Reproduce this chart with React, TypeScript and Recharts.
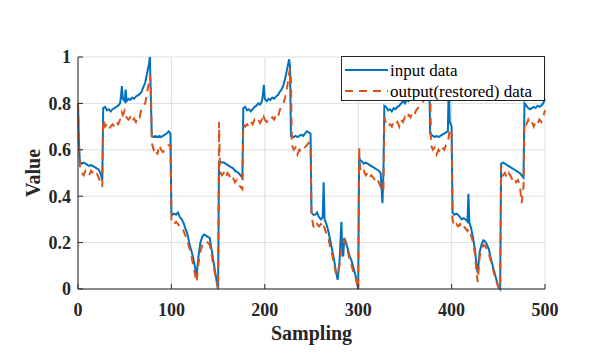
import React from "react";
import { LineChart, Line, XAxis, YAxis, CartesianGrid, Legend, Label } from "recharts";

const FONT = "'Liberation Serif', 'Times New Roman', serif";
const BLUE = "#0072BD";
const ORANGE = "#D95319";
const AXIS = "#262626";

const sampling = [
  0, 1, 2, 4, 6, 8, 10, 12, 14, 16, 18, 20, 22, 24, 26, 27, 29, 31, 33, 35, 37, 39, 41, 43, 45, 46, 47, 48, 50, 51, 52, 54, 56, 58, 60, 62, 64, 66, 68, 70, 72, 74, 76, 77, 78, 79, 81, 83, 85, 87, 89, 91, 93, 95, 97, 99, 100, 101, 103, 105, 107, 109, 111, 113, 115, 117, 119, 121, 123, 125, 127, 129, 131, 133, 135, 137, 139, 141, 143, 145, 147, 149, 150,
  151, 152, 154, 156, 158, 160, 162, 164, 166, 168, 170, 172, 174, 176, 177, 179, 181, 183, 185, 187, 189, 191, 193, 195, 197, 198, 199, 200, 202, 204, 206, 208, 210, 212, 214, 216, 218, 220, 222, 224, 226, 227, 228, 229, 231, 233, 235, 237, 239, 241, 243, 245, 247, 249, 250, 252, 254, 256, 258, 260, 262, 263, 264, 266, 268, 270, 272, 274, 276, 278, 280, 282, 283, 284, 285, 287, 289, 291, 293, 295, 297, 299, 300,
  301, 302, 304, 306, 308, 310, 312, 314, 316, 318, 320, 322, 324, 326, 327, 328, 330, 332, 334, 336, 338, 340, 342, 344, 346, 348, 350, 352, 354, 356, 358, 360, 362, 364, 366, 368, 370, 372, 374, 375, 376, 377, 378, 380, 382, 384, 386, 388, 390, 392, 394, 396, 397, 398, 400, 401, 403, 405, 407, 409, 411, 413, 415, 417, 418, 419, 421, 423, 425, 427, 428, 430, 432, 434, 436, 438, 440, 442, 444, 446, 448, 450, 452,
  453, 455, 457, 459, 461, 463, 465, 467, 469, 471, 473, 475, 477, 478, 480, 482, 484, 486, 488, 490, 492, 494, 496, 498, 500,
];

const inputValues = [
  0.8, 0.62, 0.55, 0.54, 0.545, 0.54, 0.535, 0.53, 0.535, 0.53, 0.525, 0.52, 0.515, 0.5, 0.47, 0.78, 0.785, 0.77, 0.775, 0.765, 0.775, 0.78, 0.785, 0.79, 0.8, 0.83, 0.875, 0.82, 0.81, 0.86, 0.81, 0.82, 0.815, 0.825, 0.82, 0.83, 0.835, 0.84, 0.85, 0.87, 0.89, 0.93, 0.97, 1.0, 0.82, 0.66, 0.655, 0.66, 0.655, 0.66, 0.655, 0.66, 0.665, 0.67, 0.68, 0.67, 0.33, 0.32, 0.325, 0.32, 0.33, 0.31, 0.3, 0.285, 0.26, 0.24, 0.2, 0.17, 0.14, 0.1, 0.06, 0.14, 0.2, 0.225, 0.235, 0.23, 0.225, 0.22, 0.17, 0.12, 0.07, 0.02, 0,
  0.55, 0.55, 0.545, 0.545, 0.54, 0.535, 0.53, 0.525, 0.52, 0.51, 0.505, 0.5, 0.49, 0.48, 0.78, 0.785, 0.77, 0.775, 0.765, 0.775, 0.785, 0.79, 0.8, 0.795, 0.81, 0.84, 0.88, 0.82, 0.81, 0.82, 0.815, 0.825, 0.82, 0.83, 0.835, 0.85, 0.86, 0.88, 0.91, 0.95, 0.99, 0.96, 0.66, 0.66, 0.655, 0.66, 0.655, 0.66, 0.665, 0.66, 0.67, 0.68, 0.675, 0.67, 0.33, 0.32, 0.32, 0.33, 0.31, 0.3, 0.31, 0.46, 0.3, 0.28, 0.25, 0.21, 0.17, 0.13, 0.08, 0.04, 0.12, 0.29, 0.16, 0.14, 0.22, 0.2, 0.17, 0.14, 0.12, 0.09, 0.06, 0.02, 0,
  0.57, 0.555, 0.55, 0.54, 0.545, 0.54, 0.535, 0.53, 0.525, 0.52, 0.515, 0.51, 0.5, 0.37, 0.5, 0.79, 0.785, 0.77, 0.775, 0.765, 0.78, 0.775, 0.785, 0.79, 0.8, 0.81, 0.8, 0.815, 0.81, 0.82, 0.815, 0.825, 0.82, 0.83, 0.835, 0.84, 0.85, 0.88, 0.93, 0.98, 0.95, 0.67, 0.665, 0.66, 0.655, 0.66, 0.655, 0.66, 0.665, 0.67, 0.675, 0.68, 0.9, 0.72, 0.7, 0.33, 0.32, 0.325, 0.32, 0.31, 0.3, 0.305, 0.3, 0.29, 0.41, 0.29, 0.26, 0.22, 0.17, 0.09, 0.07, 0.16, 0.19, 0.21, 0.205, 0.19, 0.17, 0.13, 0.1, 0.07, 0.04, 0.01, 0,
  0.54, 0.545, 0.54, 0.535, 0.53, 0.525, 0.52, 0.515, 0.51, 0.505, 0.5, 0.49, 0.48, 0.8, 0.79, 0.78, 0.775, 0.78, 0.785, 0.78, 0.79, 0.785, 0.79, 0.8, 0.82,
];

const outputValues = [
  0.8, 0.64, 0.53, 0.5, 0.49, 0.51, 0.5, 0.49, 0.51, 0.5, 0.49, 0.5, 0.48, 0.46, 0.44, 0.73, 0.7, 0.71, 0.69, 0.7, 0.71, 0.7, 0.72, 0.71, 0.73, 0.74, 0.76, 0.75, 0.77, 0.76, 0.74, 0.73, 0.74, 0.72, 0.735, 0.72, 0.745, 0.74, 0.78, 0.79, 0.8, 0.85, 0.89, 0.92, 0.88, 0.63, 0.6, 0.61, 0.58, 0.62, 0.6, 0.59, 0.6, 0.61, 0.62, 0.62, 0.3, 0.28, 0.28, 0.29, 0.28, 0.27, 0.27, 0.25, 0.23, 0.21, 0.18, 0.15, 0.11, 0.07, 0.03, 0.11, 0.16, 0.19, 0.2, 0.205, 0.2, 0.19, 0.15, 0.1, 0.06, 0.02, 0,
  0.72, 0.51, 0.49, 0.5, 0.48, 0.5, 0.49, 0.47, 0.48, 0.46, 0.47, 0.45, 0.44, 0.43, 0.71, 0.7, 0.71, 0.7, 0.72, 0.71, 0.73, 0.72, 0.73, 0.715, 0.73, 0.72, 0.74, 0.73, 0.72, 0.735, 0.73, 0.74, 0.73, 0.75, 0.74, 0.77, 0.79, 0.8, 0.83, 0.87, 0.93, 0.95, 0.9, 0.62, 0.6, 0.61, 0.58, 0.6, 0.59, 0.6, 0.61, 0.62, 0.63, 0.6, 0.32, 0.27, 0.26, 0.28, 0.27, 0.28, 0.27, 0.28, 0.26, 0.24, 0.22, 0.18, 0.15, 0.11, 0.07, 0.06, 0.1, 0.17, 0.19, 0.2, 0.21, 0.19, 0.16, 0.12, 0.1, 0.07, 0.05, 0.02, 0,
  0.61, 0.52, 0.5, 0.51, 0.49, 0.5, 0.48, 0.49, 0.48, 0.47, 0.48, 0.46, 0.44, 0.42, 0.43, 0.74, 0.71, 0.7, 0.71, 0.7, 0.72, 0.71, 0.72, 0.7, 0.73, 0.72, 0.74, 0.73, 0.75, 0.74, 0.76, 0.75, 0.77, 0.78, 0.79, 0.8, 0.81, 0.84, 0.87, 0.9, 0.92, 0.9, 0.62, 0.6, 0.61, 0.58, 0.6, 0.59, 0.61, 0.6, 0.62, 0.63, 0.66, 0.69, 0.68, 0.3, 0.27, 0.28, 0.27, 0.28, 0.26, 0.27, 0.26, 0.25, 0.26, 0.25, 0.23, 0.2, 0.15, 0.06, 0.03, 0.14, 0.17, 0.19, 0.185, 0.17, 0.15, 0.12, 0.09, 0.06, 0.03, 0.01, 0,
  0.53, 0.49, 0.5, 0.48, 0.5, 0.49, 0.47, 0.48, 0.46, 0.47, 0.45, 0.37, 0.44, 0.72, 0.71, 0.73, 0.71, 0.72, 0.7, 0.72, 0.71, 0.73, 0.72, 0.74, 0.77,
];

const xTicks = [0, 100, 200, 300, 400, 500];
const yTicks = [0, 0.2, 0.4, 0.6, 0.8, 1];
const seriesNames = ["input data", "output(restored) data"];

const data = sampling.map((s, i) => ({ s, input: inputValues[i], output: outputValues[i] }));

const XTick = (props: any) => {
  const { x, y, payload } = props;
  return (
    <text x={x} y={y + 32} textAnchor="middle" fontFamily={FONT} fontSize={18} fontWeight="bold" fill={AXIS}>
      {payload.value}
    </text>
  );
};

const YTick = (props: any) => {
  const { x, y, payload } = props;
  return (
    <text x={x} y={y} dy="0.36em" textAnchor="end" fontFamily={FONT} fontSize={18} fontWeight="bold" fill={AXIS}>
      {payload.value}
    </text>
  );
};

const NoTick = () => <g />;

const LegendBox = () => (
  <div
    style={{
      width: 202,
      height: 43,
      border: `1px solid ${AXIS}`,
      background: "#fff",
      position: "relative",
    }}
  >
    <svg width={202} height={43} style={{ position: "absolute", left: 0, top: 0 }}>
      <line x1={3} x2={46} y1={13} y2={13} stroke={BLUE} strokeWidth={2} />
      <line x1={3} x2={46} y1={34} y2={34} stroke={ORANGE} strokeWidth={2} strokeDasharray="8 6" />
      <text x={48} y={13} dy="0.33em" fontFamily={FONT} fontSize={17} fill="#000">
        {seriesNames[0]}
      </text>
      <text x={48} y={34} dy="0.33em" fontFamily={FONT} fontSize={17} fill="#000">
        {seriesNames[1]}
      </text>
    </svg>
  </div>
);

export default function App() {
  return (
    <div style={{ position: "absolute", left: 0, top: 0, width: 601, height: 357, background: "#fff" }}>
      <LineChart width={601} height={357} data={data} margin={{ top: 57, right: 56, bottom: 0, left: 0 }}>
        <CartesianGrid stroke="#dfdfdf" strokeWidth={1} verticalPoints={undefined} />
        <XAxis
          dataKey="s"
          type="number"
          domain={[0, 500]}
          ticks={xTicks}
          height={68}
          tickSize={-5}
          tickMargin={0}
          tick={<XTick />}
          axisLine={{ stroke: AXIS, strokeWidth: 1 }}
          tickLine={{ stroke: AXIS, strokeWidth: 1 }}
          interval={0}
        >
          <Label
            content={() => (
              <text x={311.5} y={340} textAnchor="middle" fontFamily={FONT} fontSize={20} fontWeight="bold" fill={AXIS}>
                Sampling
              </text>
            )}
          />
        </XAxis>
        <XAxis
          xAxisId="top"
          orientation="top"
          dataKey="s"
          type="number"
          domain={[0, 500]}
          ticks={xTicks}
          height={0}
          tickSize={-5}
          tick={<NoTick />}
          axisLine={{ stroke: AXIS, strokeWidth: 1 }}
          tickLine={{ stroke: AXIS, strokeWidth: 1 }}
          interval={0}
        />
        <YAxis
          type="number"
          domain={[0, 1]}
          ticks={yTicks}
          width={78}
          tickSize={-5}
          tickMargin={12}
          tick={<YTick />}
          axisLine={{ stroke: AXIS, strokeWidth: 1 }}
          tickLine={{ stroke: AXIS, strokeWidth: 1 }}
          interval={0}
        >
          <Label
            content={() => (
              <text
                transform="translate(40,173) rotate(-90)"
                textAnchor="middle"
                fontFamily={FONT}
                fontSize={20}
                fontWeight="bold"
                fill={AXIS}
              >
                Value
              </text>
            )}
          />
        </YAxis>
        <YAxis
          yAxisId="right"
          orientation="right"
          type="number"
          domain={[0, 1]}
          ticks={yTicks}
          width={0}
          tickSize={-5}
          tick={<NoTick />}
          axisLine={{ stroke: AXIS, strokeWidth: 1 }}
          tickLine={{ stroke: AXIS, strokeWidth: 1 }}
          interval={0}
        />
        <Line
          dataKey="input"
          name={seriesNames[0]}
          type="linear"
          stroke={BLUE}
          strokeWidth={2}
          dot={false}
          isAnimationActive={false}
        />
        <Line
          dataKey="output"
          name={seriesNames[1]}
          type="linear"
          stroke={ORANGE}
          strokeWidth={2}
          strokeDasharray="8 6"
          dot={false}
          isAnimationActive={false}
        />
        <Legend
          layout="vertical"
          align="center"
          verticalAlign="middle"
          content={<LegendBox />}
          wrapperStyle={{ left: 341, top: 56, width: 204, height: 45, right: "auto", bottom: "auto" }}
        />
      </LineChart>
    </div>
  );
}
